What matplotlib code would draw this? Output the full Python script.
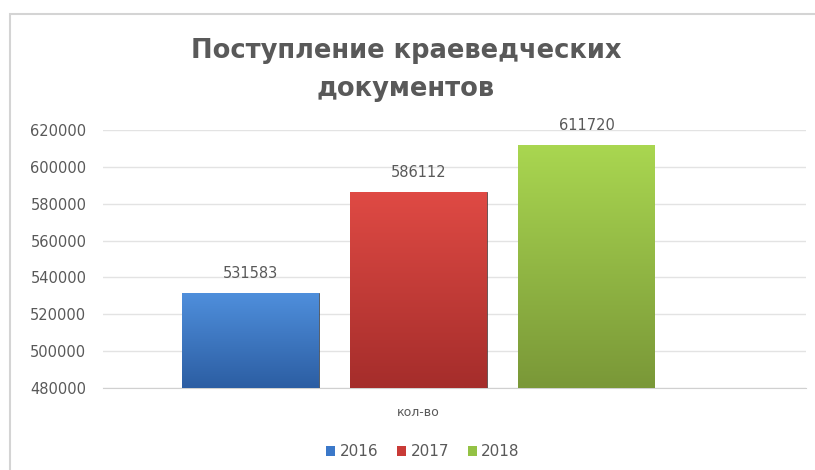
import matplotlib.pyplot as plt
import numpy as np
from matplotlib.patches import Rectangle, Patch

years = ['2016', '2017', '2018']
values = [531583, 586112, 611720]
top_colors = ['#4f8fdc', '#df4a44', '#a9d650']
mid_colors = ['#3b78c9', '#c93b37', '#94c245']
bot_colors = ['#2c5ea3', '#a52d2b', '#7a9838']
yticks = [480000, 500000, 520000, 540000, 560000, 580000, 600000, 620000]
title = 'Поступление краеведческих\nдокументов'
xlabel = 'кол-во'

gray = '#595959'
plt.rcParams['font.family'] = ['DejaVu Sans']

fig = plt.figure(figsize=(8.15, 4.70), dpi=100)
ax = fig.add_axes([103 / 815, 1 - 388 / 470, 703 / 815, 258 / 470])

base = yticks[0]
x = np.arange(len(values))
w = 0.81
bars = ax.bar(x, np.array(values) - base, bottom=base, width=w, color=mid_colors,
              edgecolor='#3a3a3a', linewidth=0.5, zorder=3)

# vertical gradient on each bar
for b, c0, c1 in zip(bars, top_colors, bot_colors):
    c0 = np.array(plt.matplotlib.colors.to_rgb(c0))
    c1 = np.array(plt.matplotlib.colors.to_rgb(c1))
    t = np.linspace(0, 1, 64)[:, None, None]
    img = c0 * (1 - t) + c1 * t
    img = np.repeat(img, 2, axis=1)
    x0, y0 = b.get_x(), b.get_y()
    im = ax.imshow(img, extent=[x0, x0 + b.get_width(), y0, y0 + b.get_height()],
                   aspect='auto', zorder=3.5, interpolation='bilinear')
    im.set_clip_path(b)

for xi, v in zip(x, values):
    ax.text(xi, v + 6500, str(v), ha='center', va='bottom', fontsize=10.5,
            color=gray, zorder=5)

ax.set_xlim(-0.878, 3.307)
ax.set_ylim(480000, 620000)
ax.set_yticks(yticks)
ax.set_yticklabels([str(t) for t in yticks])
ax.set_xticks([])
ax.tick_params(axis='y', length=0, pad=12, labelsize=10.5, labelcolor=gray)
ax.grid(axis='y', color='#e3e3e3', linewidth=1, zorder=0)
for s in ['top', 'right', 'left']:
    ax.spines[s].set_visible(False)
ax.spines['bottom'].set_color('#d0d0d0')

ax.text(1, 480000 - 10000, xlabel, ha='center', va='top', fontsize=9,
        color=gray)

fig.text(406 / 815, 1 - 70 / 470, title, ha='center', va='center',
         fontsize=18.5, fontweight='bold', color=gray, linespacing=1.65)

handles = [Patch(facecolor=c, edgecolor='none') for c in mid_colors]
fig.legend(handles, years, loc='center', bbox_to_anchor=(423 / 815, 1 - 452 / 470),
           ncol=3, frameon=False, fontsize=11, labelcolor=gray,
           handlelength=0.6, handleheight=0.6, handletextpad=0.3,
           columnspacing=1.2)

# outer chart frame (left and top edges visible)
fig.add_artist(Rectangle((10 / 815, -0.1), 1.2, 1 - 14 / 470 + 0.1,
                         transform=fig.transFigure, fill=False,
                         edgecolor='#d4d4d4', linewidth=1.5))

fig.savefig('out.png', dpi=100)
